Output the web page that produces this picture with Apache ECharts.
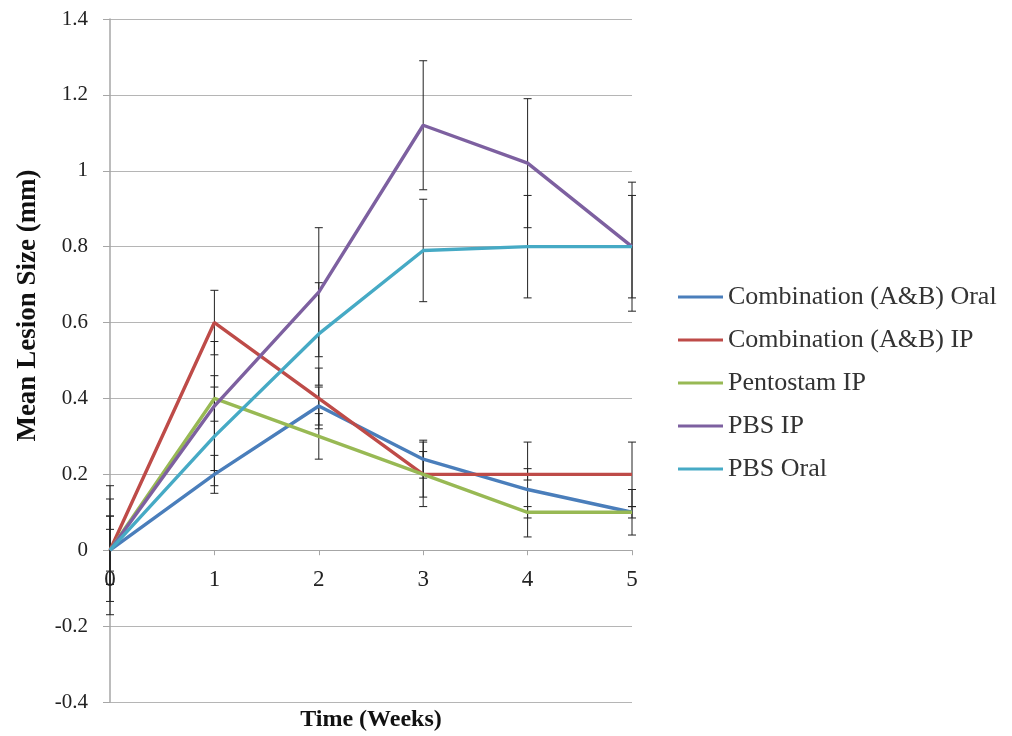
<!DOCTYPE html>
<html>
<head>
<meta charset="utf-8">
<script src="https://cdn.jsdelivr.net/npm/echarts@6/dist/echarts.min.js"></script>
<style>
  html, body { margin: 0; padding: 0; background: #fff; }
  #chart { width: 1012px; height: 736px; }
</style>
</head>
<body>
<div id="chart"></div>
<script>
const weeks = [0, 1, 2, 3, 4, 5];
const seriesNames = ["Combination (A&B) Oral", "Combination (A&B) IP", "Pentostam IP", "PBS IP", "PBS Oral"];
const comboOral = [0, 0.2, 0.38, 0.24, 0.16, 0.1];
const comboIP = [0, 0.6, 0.4, 0.2, 0.2, 0.2];
const pentostamIP = [0, 0.4, 0.3, 0.2, 0.1, 0.1];
const pbsIP = [0, 0.38, 0.68, 1.12, 1.02, 0.8];
const pbsOral = [0, 0.3, 0.57, 0.79, 0.8, 0.8];
// error bar half widths
const comboOralErr = [0.055, 0.05, 0.05, 0.05, 0.125, 0.06];
const comboIPErr = [0.17, 0.085, 0.08, 0.06, 0.015, 0.085];
const pentostamIPErr = [0.09, 0.06, 0.06, 0.085, 0.015, 0.015];
const pbsIPErr = [0.135, 0.17, 0.17, 0.17, 0.17, 0.17];
const pbsOralErr = [0.09, 0.13, 0.135, 0.135, 0.135, 0.135];
const colors = ["#4A7EBB", "#BE4B48", "#98B954", "#7D60A0", "#46AAC5"];

const values = [comboOral, comboIP, pentostamIP, pbsIP, pbsOral];
const errors = [comboOralErr, comboIPErr, pentostamIPErr, pbsIPErr, pbsOralErr];

const chart = echarts.init(document.getElementById("chart"));
const font = "Liberation Serif";

const lineSeries = values.map((vals, i) => ({
  name: seriesNames[i],
  type: "line",
  data: weeks.map((w, j) => [w, vals[j]]),
  color: colors[i],
  showSymbol: false,
  symbol: "none",
  lineStyle: { width: 3.4, color: colors[i] },
  z: 3
}));

// error bars, drawn with the axes' own scale
const errorSeries = values.map((vals, i) => ({
  name: seriesNames[i] + " err",
  type: "custom",
  data: weeks.map((w, j) => [w, vals[j] - errors[i][j], vals[j] + errors[i][j]]),
  renderItem(params, api) {
    const x = api.value(0);
    const lo = api.coord([x, api.value(1)]);
    const hi = api.coord([x, api.value(2)]);
    const hw = 4;
    const style = { stroke: "#222", lineWidth: 1 };
    return {
      type: "group",
      children: [
        { type: "line", shape: { x1: lo[0], y1: lo[1], x2: hi[0], y2: hi[1] }, style },
        { type: "line", shape: { x1: lo[0] - hw, y1: lo[1], x2: lo[0] + hw, y2: lo[1] }, style },
        { type: "line", shape: { x1: hi[0] - hw, y1: hi[1], x2: hi[0] + hw, y2: hi[1] }, style }
      ]
    };
  },
  z: 2
}));

// y = 0 sits 0.4/1.8 of the plot height above the bottom edge
const gridTop = 19, gridBottom = 34, plotH = 736 - gridTop - gridBottom;
const zeroOffset = -plotH * 0.4 / 1.8;

chart.setOption({
  animation: false,
  grid: { left: 110, right: 380, top: gridTop, bottom: gridBottom, containLabel: false, outerBoundsMode: "none" },
  legend: {
    data: seriesNames,
    orient: "vertical",
    left: 673,
    top: 279,
    itemWidth: 45,
    itemHeight: 3,
    itemGap: 17,
    icon: "rect",
    textStyle: { fontFamily: font, fontSize: 26, color: "#333" }
  },
  xAxis: {
    type: "value",
    min: 0,
    max: 5,
    interval: 1,
    position: "bottom",
    offset: zeroOffset,
    name: "Time (Weeks)",
    nameLocation: "middle",
    nameGap: 158,
    nameTextStyle: { fontFamily: font, fontSize: 24, fontWeight: "bold", color: "#111" },
    axisLine: { onZero: false, lineStyle: { color: "#A6A6A6", width: 1 } },
    axisTick: { show: true, length: 5, lineStyle: { color: "#A6A6A6" } },
    axisLabel: { fontFamily: font, fontSize: 23, color: "#222", margin: 18 },
    splitLine: { show: false }
  },
  yAxis: {
    type: "value",
    min: -0.4,
    max: 1.4,
    interval: 0.2,
    name: "Mean Lesion Size (mm)",
    nameLocation: "middle",
    nameGap: 68,
    nameRotate: 90,
    nameTextStyle: { fontFamily: font, fontSize: 27, fontWeight: "bold", color: "#111", padding: [0, 0, 0, 110] },
    axisLine: { show: true, onZero: false, lineStyle: { color: "#A6A6A6", width: 1.5 } },
    axisTick: { show: true, length: 7, lineStyle: { color: "#A6A6A6" } },
    axisLabel: {
      fontFamily: font,
      fontSize: 21,
      color: "#222",
      margin: 22,
      formatter: (v) => String(Math.round(v * 10) / 10)
    },
    splitLine: { lineStyle: { color: "#B5B5B5", width: 1.2 } }
  },
  series: [...errorSeries, ...lineSeries]
});
</script>
</body>
</html>
